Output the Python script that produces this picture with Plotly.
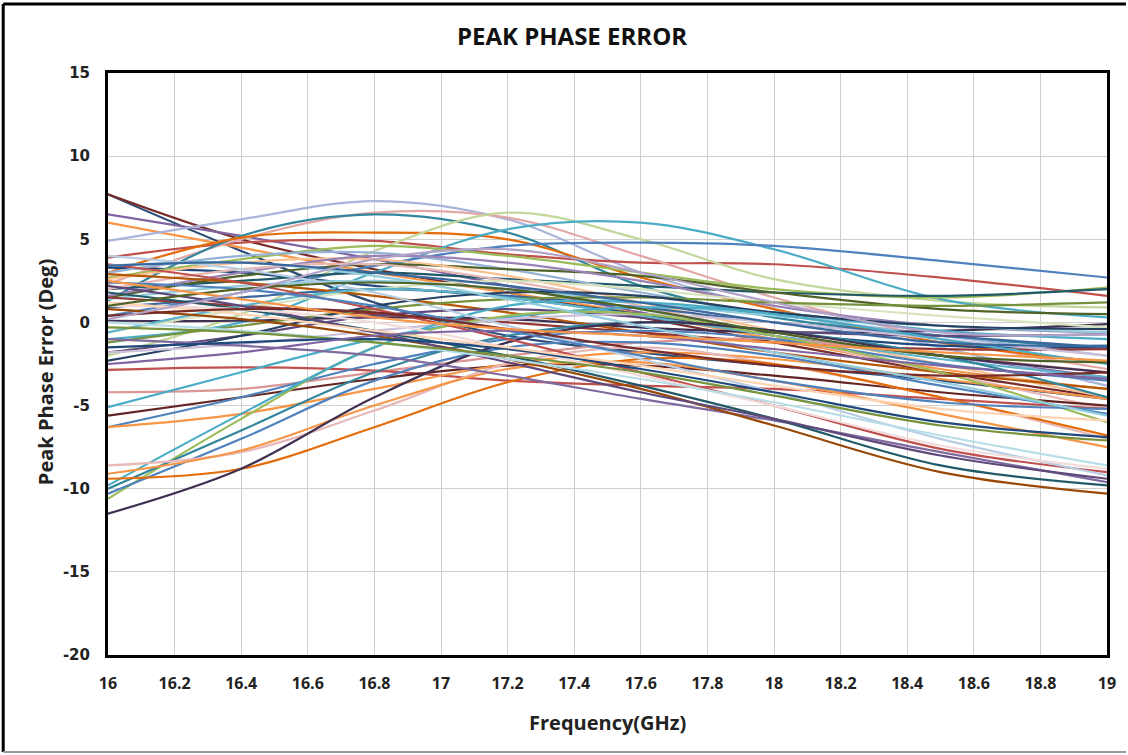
import plotly.graph_objects as go

# Frequency points (GHz) at which each channel's peak phase error is sampled
freq_ghz = [16.0, 16.4, 16.8, 17.2, 17.6, 18.0, 18.5, 19.0]

# Peak phase error (deg) per channel, one list per channel
ch01 = [7.7, 4.3, 1.2, -0.8, -1.8, -2.6, -3.5, -4.6]
ch02 = [7.7, 5.0, 3.2, 1.8, 0.3, -1.2, -3.0, -4.5]
ch03 = [6.5, 5.2, 3.8, 2.2, 0.6, -0.8, -2.0, -3.3]
ch04 = [6.0, 4.5, 3.0, 1.8, 0.5, -1.0, -2.8, -4.0]
ch05 = [4.9, 6.2, 7.3, 6.2, 3.0, 0.8, -1.5, -3.8]
ch06 = [3.9, 4.8, 4.9, 4.1, 3.6, 3.5, 2.7, 1.6]
ch07 = [2.3, 5.0, 6.6, 6.3, 4.0, 1.5, -1.0, -2.8]
ch08 = [1.3, 5.2, 6.5, 5.4, 2.2, 0.3, -0.8, -1.6]
ch09 = [3.0, 5.1, 5.4, 5.0, 2.7, 0.8, -1.2, -2.4]
ch10 = [3.3, 3.0, 2.2, 1.5, 0.5, -0.6, -1.4, -1.5]
ch11 = [-2.0, 0.5, 4.3, 6.6, 5.0, 2.6, 1.3, 0.9]
ch12 = [-1.0, 0.0, 3.0, 5.6, 6.0, 4.4, 1.4, 0.3]
ch13 = [0.4, 1.8, 3.4, 4.6, 4.8, 4.6, 3.7, 2.7]
ch14 = [2.7, 3.8, 4.6, 4.0, 3.0, 2.0, 1.5, 2.1]
ch15 = [2.0, 2.5, 3.0, 2.6, 2.2, 1.8, 1.6, 2.0]
ch16 = [3.0, 4.0, 4.2, 3.2, 1.8, 0.5, -0.8, -2.0]
ch17 = [1.5, 2.8, 3.5, 3.2, 2.8, 1.8, 0.8, 0.5]
ch18 = [2.6, 3.6, 3.8, 2.8, 1.2, -0.5, -2.5, -4.5]
ch19 = [1.6, 3.0, 4.0, 3.6, 2.5, 1.0, -0.2, -0.6]
ch20 = [2.0, 3.2, 3.5, 2.5, 1.0, -0.8, -3.0, -5.2]
ch21 = [0.1, 0.1, 0.3, 0.2, -0.3, -0.6, -0.5, -0.1]
ch22 = [1.4, 2.2, 2.5, 2.0, 1.2, 0.4, -0.2, -0.6]
ch23 = [-0.6, 0.8, 2.0, 2.5, 2.0, 1.2, 0.4, -0.3]
ch24 = [0.9, 1.5, 2.0, 1.6, 0.9, 0.0, -0.8, -1.5]
ch25 = [2.9, 2.4, 1.6, 0.6, -0.6, -1.8, -3.0, -4.0]
ch26 = [1.5, 1.0, 0.5, 0.0, -0.6, -1.2, -1.6, -1.6]
ch27 = [-1.2, -0.2, 0.8, 1.4, 1.5, 1.2, 1.0, 1.2]
ch28 = [-1.8, -0.8, 0.4, 0.8, 0.3, -0.5, -0.8, -0.7]
ch29 = [-0.6, 1.0, 2.0, 1.5, 0.4, -0.8, -2.2, -3.3]
ch30 = [-4.2, -4.0, -3.0, -2.0, -1.2, -1.0, -2.0, -3.0]
ch31 = [-2.85, -2.7, -2.9, -3.5, -3.8, -4.0, -4.6, -5.2]
ch32 = [-5.6, -4.5, -3.4, -2.6, -2.6, -3.2, -4.2, -5.0]
ch33 = [-6.3, -4.5, -2.5, -1.0, -0.5, -1.0, -2.5, -3.5]
ch34 = [-6.3, -5.5, -4.0, -2.5, -1.8, -2.2, -3.4, -4.6]
ch35 = [-5.1, -3.0, -1.0, 0.3, 0.9, 0.6, -0.5, -1.0]
ch36 = [-2.3, -0.8, 1.0, 1.8, 1.6, 0.6, -0.2, -0.4]
ch37 = [-1.8, -1.3, -0.5, 0.2, 0.5, 0.0, -1.0, -2.0]
ch38 = [-10.6, -5.8, -1.5, 0.4, 0.5, -0.8, -3.0, -6.0]
ch39 = [-10.0, -6.5, -3.0, -0.8, 0.0, -0.5, -2.0, -4.5]
ch40 = [-10.3, -7.0, -3.5, -1.5, -1.2, -2.0, -3.8, -5.5]
ch41 = [-9.8, -5.5, -1.5, 1.0, 1.2, 0.5, -1.0, -2.5]
ch42 = [-8.6, -7.8, -5.3, -2.5, -1.5, -2.5, -4.5, -7.0]
ch43 = [-9.1, -7.7, -5.0, -2.8, -2.4, -3.5, -5.5, -7.5]
ch44 = [-9.4, -8.8, -6.3, -3.6, -2.2, -2.5, -4.5, -6.8]
ch45 = [-11.5, -8.8, -4.5, -1.2, 0.0, -0.5, -2.0, -3.0]
ch46 = [-1.0, -1.4, -2.0, -3.2, -4.6, -5.9, -7.8, -9.6]
ch47 = [0.8, 0.2, -0.8, -2.2, -4.0, -6.2, -9.0, -10.3]
ch48 = [1.8, 0.8, -0.5, -2.0, -3.8, -5.8, -8.6, -9.8]
ch49 = [2.2, 1.0, -0.6, -2.4, -4.2, -5.8, -8.0, -9.4]
ch50 = [3.5, 2.4, 0.8, -1.0, -3.0, -5.0, -7.6, -9.0]
ch51 = [4.0, 3.2, 1.8, -0.2, -2.2, -4.2, -7.0, -9.2]
ch52 = [1.0, 0.8, 0.0, -1.5, -3.2, -5.0, -7.4, -8.8]
ch53 = [0.0, -0.5, -1.2, -2.2, -3.4, -4.8, -6.8, -8.6]
ch54 = [-0.3, -0.6, -1.2, -2.0, -3.0, -4.4, -6.2, -7.1]
ch55 = [-1.5, -1.2, -1.0, -1.6, -2.8, -4.2, -6.0, -6.9]
ch56 = [1.2, 0.5, -0.5, -1.5, -2.6, -3.8, -5.2, -5.9]
ch57 = [2.4, 2.0, 1.0, -0.5, -2.0, -3.5, -4.8, -5.2]
ch58 = [0.4, 0.8, 0.6, -0.4, -1.6, -2.6, -3.2, -3.0]
ch59 = [3.4, 3.6, 2.8, 1.4, -0.2, -1.8, -3.6, -5.6]
ch60 = [1.0, 2.0, 2.4, 2.0, 0.8, -0.6, -2.0, -2.4]
ch61 = [-2.5, -1.8, -0.8, -0.5, -0.8, -1.6, -2.6, -3.4]
ch62 = [2.5, 1.4, 0.3, -0.4, -0.8, -1.2, -1.8, -2.3]
ch63 = [3.4, 3.6, 3.0, 2.2, 1.2, 0.0, -1.2, -1.4]
ch64 = [0.2, 1.8, 3.8, 4.4, 3.0, 1.2, -0.6, -0.7]

channels = [ch01, ch02, ch03, ch04, ch05, ch06, ch07, ch08, ch09, ch10,
            ch11, ch12, ch13, ch14, ch15, ch16, ch17, ch18, ch19, ch20,
            ch21, ch22, ch23, ch24, ch25, ch26, ch27, ch28, ch29, ch30,
            ch31, ch32, ch33, ch34, ch35, ch36, ch37, ch38, ch39, ch40,
            ch41, ch42, ch43, ch44, ch45, ch46, ch47, ch48, ch49, ch50,
            ch51, ch52, ch53, ch54, ch55, ch56, ch57, ch58, ch59, ch60,
            ch61, ch62, ch63, ch64]

# Axis ticks
x_ticks = [16.0, 16.2, 16.4, 16.6, 16.8, 17.0, 17.2, 17.4, 17.6, 17.8,
           18.0, 18.2, 18.4, 18.6, 18.8, 19.0]
x_tick_text = ["16", "16.2", "16.4", "16.6", "16.8", "17", "17.2", "17.4", "17.6", "17.8",
               "18", "18.2", "18.4", "18.6", "18.8", "19"]
y_ticks = [-20, -15, -10, -5, 0, 5, 10, 15]
y_tick_text = ["-20", "-15", "-10", "-5", "0", "5", "10", "15"]

# Line colours, one per channel
colors = ["#2C4D75", "#772C2A", "#8064A2", "#F79646", "#A9B4DA", "#C0504D",
          "#E3A8A6", "#31859C", "#E46C0A", "#1F497D", "#C3D69B", "#4BACC6",
          "#4F81BD", "#9BBB59", "#215968", "#95B3D7", "#4F6228", "#FAC090",
          "#9983B5", "#E6B9B8", "#403152", "#93CDDD", "#D7E4BD", "#3A679C",
          "#B65708", "#953735", "#76923C", "#604A7B", "#5FB4C9", "#D99694",
          "#C0504D", "#632523", "#4F81BD", "#F79646", "#4BACC6", "#254061",
          "#CCC1DA", "#9BBB59", "#31859C", "#4F81BD", "#4BACC6", "#E6B9B8",
          "#F79646", "#E46C0A", "#403152", "#7F6A9F", "#984807", "#215968",
          "#5F497A", "#C0504D", "#B9CDE5", "#F2DCDB", "#B7DEE8", "#77933C",
          "#1F497D", "#FCD5B5", "#4F81BD", "#772C2A", "#93CDDD", "#4F6228",
          "#8064A2", "#F79646", "#3A679C", "#B3A2C7"]

fig = go.Figure()
for i, vals in enumerate(channels):
    fig.add_trace(go.Scatter(
        x=freq_ghz, y=vals, mode="lines",
        line=dict(color=colors[i % len(colors)], width=2.2, shape="spline", smoothing=1.0),
        showlegend=False, hoverinfo="x+y",
    ))

# Pixel geometry of the plot area
W, H = 1128, 755
L, R, T, B = 108, 1109, 73, 655

def px_x(p):
    return (p - L) / (R - L)

def px_y(p):
    return (B - p) / (B - T)

narrow = "Liberation Sans Narrow, Open Sans, Arial"

fig.update_layout(
    width=W, height=H,
    margin=dict(l=L, r=W - R, t=T, b=H - B),
    paper_bgcolor="white", plot_bgcolor="white",
    title=dict(text="<b>PEAK PHASE ERROR</b>", x=572 / W, xref="container", xanchor="center",
               y=1 - 37 / H, yref="container", yanchor="middle",
               font=dict(family=narrow, size=24, color="#111")),
    xaxis=dict(range=[16, 19], tickmode="array", tickvals=x_ticks,
               ticktext=["<b>%s</b>" % t for t in x_tick_text],
               showgrid=True, gridcolor="#CFCFCF", gridwidth=1,
               showline=True, linecolor="black", linewidth=3, mirror=True,
               ticks="", ticklabelstandoff=12,
               tickfont=dict(family=narrow, size=16, color="#222"),
               zeroline=False),
    yaxis=dict(range=[-20, 15], tickmode="array", tickvals=y_ticks,
               ticktext=["<b>%s</b>" % t for t in y_tick_text],
               showgrid=True, gridcolor="#CFCFCF", gridwidth=1,
               showline=True, linecolor="black", linewidth=3, mirror=True,
               ticks="", ticklabelstandoff=12,
               tickfont=dict(family="DejaVu Sans, Verdana", size=15, color="#222"),
               zeroline=False),
    annotations=[
        dict(text="<b>Frequency(GHz)</b>", xref="paper", yref="paper",
             x=px_x(608), y=px_y(722), xanchor="center", yanchor="middle", showarrow=False,
             font=dict(family="Open Sans, Arial", size=20, color="#222")),
        dict(text="<b>Peak Phase Error (Deg)</b>", xref="paper", yref="paper",
             x=px_x(45), y=px_y(372), xanchor="center", yanchor="middle", showarrow=False,
             textangle=-90, font=dict(family="Open Sans, Arial", size=20, color="#222")),
    ],
)

# Outer frame around the whole chart
fig.add_shape(type="line", xref="paper", yref="paper",
              x0=px_x(3), x1=px_x(W), y0=px_y(4), y1=px_y(4),
              line=dict(color="black", width=3))
fig.add_shape(type="line", xref="paper", yref="paper",
              x0=px_x(3), x1=px_x(3), y0=px_y(4), y1=px_y(752),
              line=dict(color="black", width=3))
fig.add_shape(type="line", xref="paper", yref="paper",
              x0=px_x(3), x1=px_x(W), y0=px_y(752), y1=px_y(752),
              line=dict(color="#9A9A9A", width=2))

fig.write_html("out.html")
